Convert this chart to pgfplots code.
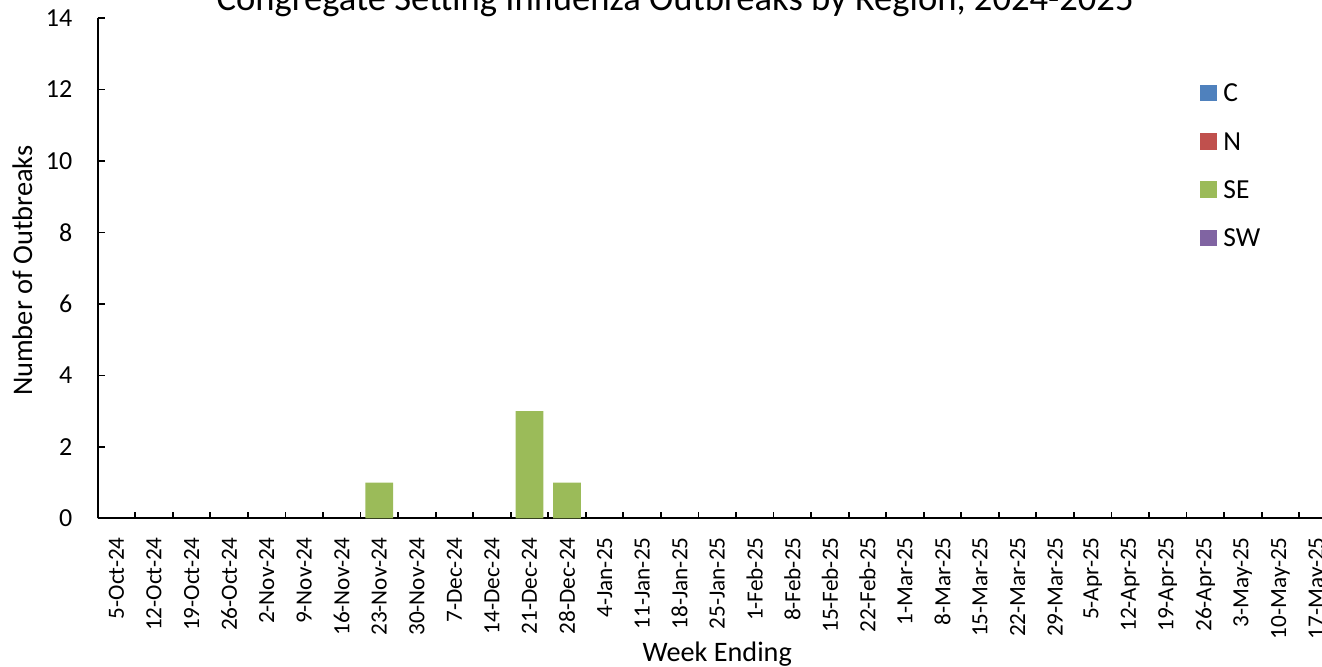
\documentclass[border=0pt]{standalone}
\usepackage{fontspec}
\setmainfont{Carlito}
\usepackage{pgfplots}
\pgfplotsset{compat=1.18}
\definecolor{cC}{HTML}{4F81BD}
\definecolor{cN}{HTML}{C0504D}
\definecolor{cSE}{HTML}{9BBB59}
\definecolor{cSW}{HTML}{8064A2}
\newcommand{\xf}{\fontsize{11.6pt}{13.9pt}\selectfont}
\newcommand{\yf}{\fontsize{13pt}{15.6pt}\selectfont}
\begin{document}
\begin{tikzpicture}
\useasboundingbox (-48.85pt,-74.25pt) rectangle (612.15pt,259.25pt);
\clip (-48.85pt,-74.25pt) rectangle (612.15pt,259.25pt);
\begin{axis}[
  at={(0pt,0pt)}, anchor=south west,
  scale only axis,
  width=619.5pt, height=250.3pt,
  ybar stacked, bar width=13.85pt,
  xmin=-0.5, xmax=32.5,
  ymin=0, ymax=14,
  ytick={0,2,...,14},
  xtick={0,...,32},
  xticklabels={\xf 5-Oct-24,\xf 12-Oct-24,\xf 19-Oct-24,\xf 26-Oct-24,\xf 2-Nov-24,\xf 9-Nov-24,\xf 16-Nov-24,\xf 23-Nov-24,\xf 30-Nov-24,\xf 7-Dec-24,\xf 14-Dec-24,\xf 21-Dec-24,\xf 28-Dec-24,\xf 4-Jan-25,\xf 11-Jan-25,\xf 18-Jan-25,\xf 25-Jan-25,\xf 1-Feb-25,\xf 8-Feb-25,\xf 15-Feb-25,\xf 22-Feb-25,\xf 1-Mar-25,\xf 8-Mar-25,\xf 15-Mar-25,\xf 22-Mar-25,\xf 29-Mar-25,\xf 5-Apr-25,\xf 12-Apr-25,\xf 19-Apr-25,\xf 26-Apr-25,\xf 3-May-25,\xf 10-May-25,\xf 17-May-25},
  yticklabel={\yf\pgfmathprintnumber{\tick}},
  minor xtick={-0.5,0.5,...,32.5},
  axis x line*=bottom, axis y line*=left,
  axis line style={line width=1pt, black},
  tick style={line width=0.9pt, black},
  tick align=inside,
  major x tick style={draw=none},
  minor tick length=3.3pt,
  major tick length=3.5pt,
  /pgf/number format/assume math mode=true,
  xticklabel style={rotate=90, anchor=east, inner sep=0pt, xshift=-9.25pt},
  yticklabel style={anchor=east, inner sep=0pt, xshift=-12.5pt},
  xlabel={Week Ending},
  ylabel={Number of Outbreaks},
  xlabel style={at={(axis description cs:0.5,0)}, anchor=center, yshift=-68pt, font=\fontsize{14.1pt}{17pt}\selectfont},
  ylabel style={at={(axis description cs:-0.053,0.495)}, anchor=base, font=\fontsize{14.2pt}{17pt}\selectfont},
  title={Congregate Setting Influenza Outbreaks by Region, 2024-2025},
  every axis title/.style={at={(axis description cs:0.466,1.0138)}, anchor=base, inner sep=0pt, font=\fontsize{18.3pt}{22pt}\selectfont},
  legend cell align=left,
  legend image code/.code={\fill[#1] (0pt,-4.2pt) rectangle (8.4pt,4.2pt);},
  legend style={at={(axis description cs:0.8897,0.8677)}, anchor=north west, draw=none, fill=none, inner sep=0pt, outer sep=0pt, row sep=15.3pt, column sep=3.3pt,
    nodes={inner sep=0pt, text height=8.86pt, text depth=0pt}, font=\fontsize{13.75pt}{16pt}\selectfont},
]
\addplot[fill=cC, draw=none] coordinates {(0,0) (1,0) (2,0) (3,0) (4,0) (5,0) (6,0) (7,0) (8,0) (9,0) (10,0) (11,0) (12,0) (13,0) (14,0) (15,0) (16,0) (17,0) (18,0) (19,0) (20,0) (21,0) (22,0) (23,0) (24,0) (25,0) (26,0) (27,0) (28,0) (29,0) (30,0) (31,0) (32,0)};
\addplot[fill=cN, draw=none] coordinates {(0,0) (1,0) (2,0) (3,0) (4,0) (5,0) (6,0) (7,0) (8,0) (9,0) (10,0) (11,0) (12,0) (13,0) (14,0) (15,0) (16,0) (17,0) (18,0) (19,0) (20,0) (21,0) (22,0) (23,0) (24,0) (25,0) (26,0) (27,0) (28,0) (29,0) (30,0) (31,0) (32,0)};
\addplot[fill=cSE, draw=none] coordinates {(0,0) (1,0) (2,0) (3,0) (4,0) (5,0) (6,0) (7,1) (8,0) (9,0) (10,0) (11,3) (12,1) (13,0) (14,0) (15,0) (16,0) (17,0) (18,0) (19,0) (20,0) (21,0) (22,0) (23,0) (24,0) (25,0) (26,0) (27,0) (28,0) (29,0) (30,0) (31,0) (32,0)};
\addplot[fill=cSW, draw=none] coordinates {(0,0) (1,0) (2,0) (3,0) (4,0) (5,0) (6,0) (7,0) (8,0) (9,0) (10,0) (11,0) (12,0) (13,0) (14,0) (15,0) (16,0) (17,0) (18,0) (19,0) (20,0) (21,0) (22,0) (23,0) (24,0) (25,0) (26,0) (27,0) (28,0) (29,0) (30,0) (31,0) (32,0)};
\legend{C,N,SE,SW}
\end{axis}
\end{tikzpicture}
\end{document}
